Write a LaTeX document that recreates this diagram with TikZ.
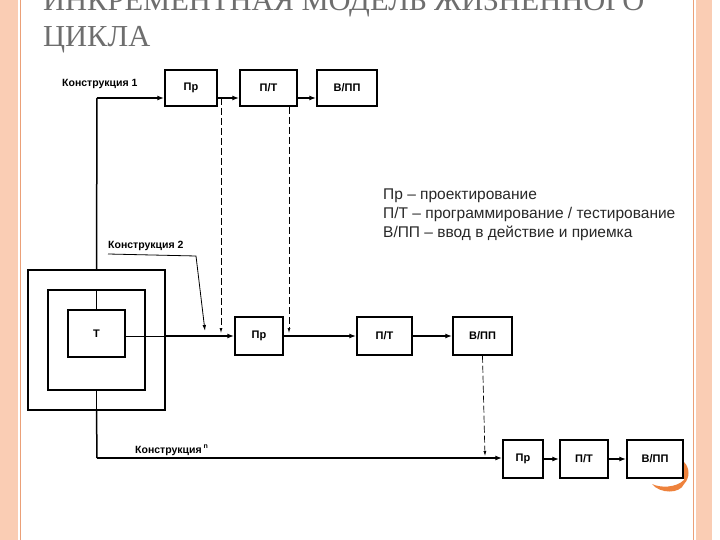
\documentclass[tikz,border=0pt]{standalone}
\usepackage{fontspec}
\setmainfont{Liberation Sans}
\newfontfamily\titlefont{Liberation Serif}
\usetikzlibrary{arrows.meta}
\definecolor{peach}{RGB}{250,205,180}
\definecolor{peachline}{RGB}{235,160,120}
\definecolor{orng}{RGB}{238,130,60}
\definecolor{titlegray}{RGB}{110,110,110}
\begin{document}
\begin{tikzpicture}[x=1pt,y=-1pt,
  blk/.style={draw,line width=1.5pt,minimum width=#1,minimum height=36pt,inner sep=0pt,font=\bfseries\fontsize{11}{12}\selectfont},
  flow/.style={line width=1.5pt,-{Latex[length=7pt,width=5pt]}},
  thin/.style={line width=0.8pt},
  dsh/.style={line width=0.7pt,dashed,dash pattern=on 7pt off 3pt,-{Latex[length=5pt,width=3pt]}},
  lbl/.style={font=\bfseries\fontsize{10.5}{12}\selectfont,inner sep=0pt}]
\useasboundingbox (0,0) rectangle (720,540);
\fill[white] (0,0) rectangle (720,540);
% side strips
\fill[peach] (0,0) rectangle (18,540);
\draw[peachline,line width=1pt] (20,0) -- (20,540);
\fill[peach] (696,0) rectangle (712,540);
\draw[peachline,line width=1pt] (693,0) -- (693,540);
\fill[orng] (652,484) .. controls (660,494) and (680,494) .. (684,484) -- (684,480) .. controls (676,488) and (660,488) .. (652,484) -- cycle;
\fill[orng] (684,462) .. controls (690,468) and (690,478) .. (684,484) -- cycle;
% title
\node[anchor=west,inner sep=0pt,text=titlegray,font=\titlefont\fontsize{30.5}{33}\selectfont] (t1) at (43,4) {ИНКРЕМЕНТНАЯ МОДЕЛЬ ЖИЗНЕННОГО};
\node[anchor=west,inner sep=0pt,text=titlegray,font=\titlefont\fontsize{30.5}{33}\selectfont] (t2) at (43,40) {ЦИКЛА};
% row 1
\node[blk=52pt] (p1) at (191,88) {Пр};
\node[blk=57pt] (pt1) at (268.5,88) {П/Т};
\node[blk=60pt] (v1) at (347,88) {В/ПП};
\node[lbl,anchor=west] (k1) at (62,84) {Конструкция 1};
% nested squares
\node[draw,line width=1.5pt,minimum width=137pt,minimum height=140pt,inner sep=0pt] (outer) at (96.5,340) {};
\node[draw,line width=1.5pt,minimum width=97pt,minimum height=100pt,inner sep=0pt] (mid) at (96.5,340) {};
\node[blk=57pt,minimum height=47pt] (T) at (96.5,333.5) {Т};
% row 2
\node[blk=48pt,minimum height=38pt] (p2) at (259,336) {Пр};
\node[blk=55pt,minimum height=38pt] (pt2) at (384.5,336) {П/Т};
\node[blk=59pt,minimum height=38pt] (v2) at (482.5,336) {В/ПП};
% row 3
\node[blk=40pt,minimum height=38pt] (p3) at (523,459) {Пр};
\node[blk=48pt,minimum height=38pt] (pt3) at (584,459) {П/Т};
\node[blk=56pt,minimum height=38pt] (v3) at (655,459) {В/ПП};
% coordinates
\coordinate (c1) at (97,98);
\coordinate (c3) at (97,458);
\coordinate (d1) at (221,98);
\coordinate (d1e) at (221,333);
\coordinate (d2e) at (289,333);
\coordinate (d3e) at (485,456);
\coordinate (m1) at (165,336);
% connectors
\draw[thin] (T.north) -- (T.north |- mid.north);
\draw[line width=1.5pt] (T.north |- outer.north) -- (c1);
\draw[flow] (c1) -- (p1.west |- c1);
\draw[flow] (p1.east |- c1) -- (pt1.west |- c1);
\draw[flow] (pt1.east |- c1) -- (v1.west |- c1);
\draw[thin] (T.east |- m1) -- (m1);
\draw[flow] (m1) -- (p2.west);
\draw[flow] (p2.east) -- (pt2.west);
\draw[flow] (pt2.east) -- (v2.west);
\draw[thin] (T.south |- mid.south) -- (T.south |- outer.south);
\draw[line width=1.5pt] (T.south |- outer.south) -- (c3);
\draw[flow] (c3) -- (p3.west |- c3);
\draw[flow] (p3.east) -- (pt3.west);
\draw[flow] (pt3.east) -- (v3.west);
\draw[dsh] (d1) -- (d1e);
\draw[dsh] (pt1.south -| 289,0) -- (d2e);
\draw[dsh] (v2.south) -- (d3e);
% construction labels
\node[lbl,anchor=west] (k2) at (108,246) {Конструкция 2};
\draw[thin,-{Latex[length=6pt,width=3.5pt]}] (108,254) -- (196,256) -- (205,331);
\node[lbl,anchor=west] (kn) at (135,450) {Конструкция\,\raisebox{5pt}{\fontsize{7}{7}\selectfont n}};
% legend
\node[anchor=north west,align=left,inner sep=0pt,text={rgb,255:red,40;green,40;blue,40},font=\fontsize{15.5}{19}\selectfont] (leg) at (383,189) {Пр – проектирование\\П/Т – программирование / тестирование\\В/ПП – ввод в действие и приемка};
\end{tikzpicture}
\end{document}
